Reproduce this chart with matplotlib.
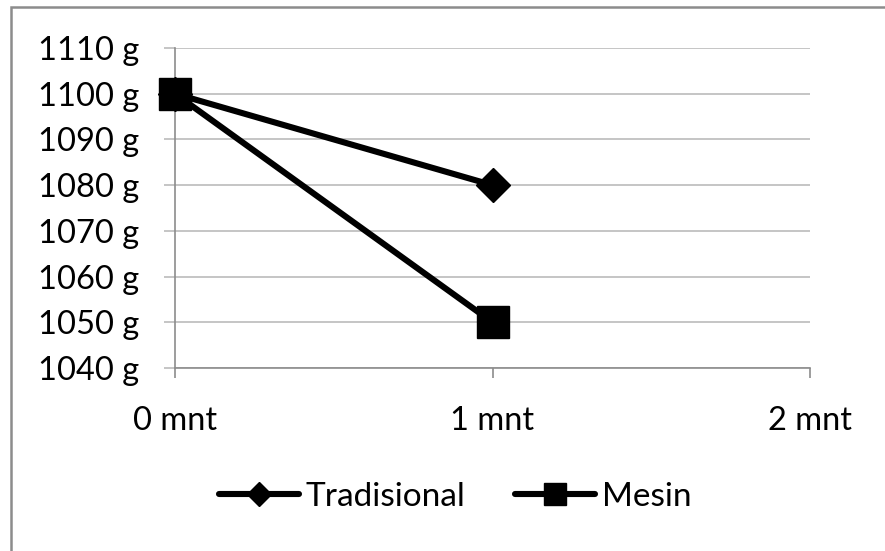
import matplotlib
matplotlib.use("Agg")
import matplotlib.pyplot as plt
from matplotlib.patches import Rectangle

plt.rcParams['font.family'] = ['Lato', 'DejaVu Sans']

# data
menit = [0, 1]
tradisional = [1100, 1080]
mesin = [1100, 1050]
x_ticks = [0, 1, 2]
x_labels = ["0 mnt", "1 mnt", "2 mnt"]
y_ticks = [1040, 1050, 1060, 1070, 1080, 1090, 1100, 1110]

fig = plt.figure(figsize=(8.85, 5.51), dpi=100)
ax = fig.add_axes([175/885, 1 - 368/551, (810 - 175)/885, (368 - 48)/551])

ax.plot(menit, tradisional, color='black', lw=4.4, marker='D', ms=17,
        solid_capstyle='round', label='Tradisional', zorder=3, clip_on=False)
ax.plot(menit, mesin, color='black', lw=4.4, marker='s', ms=23,
        solid_capstyle='round', label='Mesin', zorder=3, clip_on=False)

ax.set_xlim(0, 2)
ax.set_ylim(1040, 1110)
ax.set_xticks(x_ticks)
ax.set_xticklabels(x_labels)
ax.set_yticks(y_ticks)
ax.set_yticklabels([f"{v} g" for v in y_ticks])

ax.grid(axis='y', color='#c0c0c0', lw=1.3)
ax.set_axisbelow(True)
for s in ['top', 'right']:
    ax.spines[s].set_visible(False)
ax.spines['left'].set_color('#8c8c8c')
ax.spines['bottom'].set_color('#8c8c8c')
ax.spines['left'].set_linewidth(1.2)
ax.spines['bottom'].set_linewidth(1.2)
ax.tick_params(axis='y', length=8, color='#c0c0c0', width=1.3, labelsize=23.5, pad=18)
ax.tick_params(axis='x', length=7, color='#8c8c8c', width=1.2, labelsize=23.5, pad=20)

leg = fig.legend(loc='center', bbox_to_anchor=(455/885, 1 - 497/551), ncol=2,
                 frameon=False, fontsize=24, markerscale=0.7, handlelength=2.4,
                 handletextpad=0.2, columnspacing=1.5)

# grey frame along top and left (screenshot edge)
fig.patches.append(Rectangle((11/885, -0.1), 1.2, 1 - 7/551 + 0.1,
                             transform=fig.transFigure, fill=False,
                             edgecolor='#8c8c8c', lw=1.8))

fig.savefig("out.png", dpi=100)
